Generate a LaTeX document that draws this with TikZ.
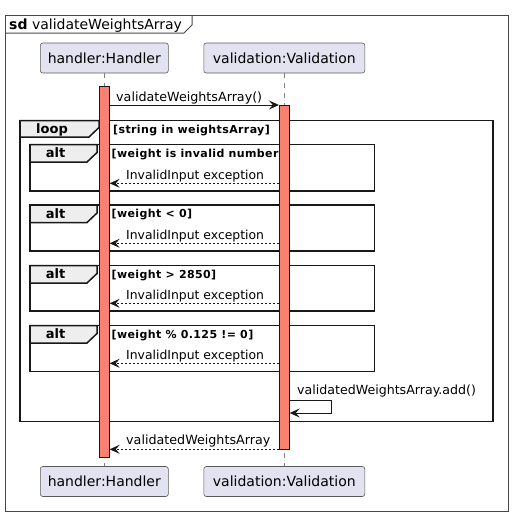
\documentclass[tikz,border=0pt]{standalone}
\usepackage{fontspec}
\setmainfont{DejaVu Sans}
\usetikzlibrary{arrows.meta}
\definecolor{partfill}{HTML}{E2E2F0}
\definecolor{partline}{HTML}{5A5A5A}
\definecolor{actfill}{HTML}{FA8072}
\definecolor{tabfill}{HTML}{EEEEEE}
\definecolor{frmline}{HTML}{181818}
\begin{document}
\begin{tikzpicture}[x=1pt,y=-1pt,
  part/.style={draw=partline, fill=partfill, rounded corners=2.5pt, minimum height=30pt, inner sep=0, line width=0.6pt, font=\fontsize{14}{16}\selectfont},
  act/.style={draw=frmline, fill=actfill, minimum width=10pt, inner sep=0, line width=0.8pt},
  life/.style={draw=gray, dash pattern=on 5pt off 5pt, line width=0.5pt},
  msg/.style={-{Stealth[length=10pt,width=9pt,inset=4pt]}, line width=0.8pt, draw=frmline},
  ret/.style={msg, dash pattern=on 2pt off 2pt},
  lbl/.style={font=\fontsize{12.7}{15}\selectfont, inner sep=0, anchor=base west},
  guard/.style={font=\fontsize{11}{13}\selectfont\bfseries\addfontfeature{LetterSpace=3.5}, inner sep=0, anchor=base west},
  tablbl/.style={font=\fontsize{13}{15}\selectfont\bfseries, inner sep=0, anchor=base},
  frm/.style={draw=frmline, line width=1.5pt},
  tab/.style={draw=frmline, fill=tabfill, line width=1.5pt, line join=miter},
  ]
\useasboundingbox (0,0) rectangle (513,517);
% outer frame
\draw[draw=frmline!80, line width=1pt] (5,15) rectangle (508,511);
\draw[draw=frmline!80, line width=1pt] (5,33) -- (184,33) -- (192,25) -- (192,15);
\node[inner sep=0, anchor=base west, font=\fontsize{14}{16}\selectfont] (title) at (9,29) {\textbf{sd} validateWeightsArray};

% loop frame
\draw[frm] (20,120.5) rectangle (493,421.5);
\filldraw[tab] (20,120.5) -- (99,120.5) -- (99,127.5) -- (89,137) -- (20,137) -- cycle;
\node[tablbl] (looplbl) at (52,133) {loop};
\node[guard] (loopg) at (113,133) {[string in weightsArray]};

% alt frames
\foreach \t/\b/\g [count=\i] in {144.5/190.8/{[weight is invalid number]},205/250.8/{[weight < 0]},265.5/310.8/{[weight > 2850]},325.5/371.5/{[weight \% 0.125 != 0]}}{
  \draw[frm] (30,\t) rectangle (374.5,\b);
  \filldraw[tab] (30,\t) -- (97,\t) -- (97,\t+8) -- (87,\t+17.5) -- (30,\t+17.5) -- cycle;
  \node[tablbl] (altlbl\i) at (55.5,\t+13) {alt};
  \node[guard] (altg\i) at (111.5,\t+12.5) {\g};
}

% participants
\node[part, minimum width=128pt] (hTop) at (104.3,58) {handler:Handler};
\node[part, minimum width=161pt] (vTop) at (284.3,58) {validation:Validation};
\node[part, minimum width=128pt] (hBot) at (104.3,481.5) {handler:Handler};
\node[part, minimum width=161pt] (vBot) at (284.3,481.5) {validation:Validation};
\draw[life] (hTop.south) -- (hBot.north);
\draw[life] (vTop.south) -- (vBot.north);

% activations
\node[act, minimum height=371.7pt] (hact) at (104.3,271.85) {};
\node[act, minimum height=344.3pt] (vact) at (284.3,277.15) {};

% messages
\coordinate (c1a) at (hact.east |- 0,105);
\coordinate (c1b) at (vact.west |- 0,105);
\draw[msg] (c1a) -- (c1b);
\node[lbl] (l1) at (116,101) {validateWeightsArray()};

\foreach \y [count=\i] in {183.3,243.3,303.3,363.3}{
  \coordinate (e\i a) at (vact.west |- 0,\y);
  \coordinate (e\i b) at (hact.east |- 0,\y);
  \draw[ret] (e\i a) -- (e\i b);
  \node[lbl, font=\fontsize{12.4}{15}\selectfont] (el\i) at (126,\y-4.3) {InvalidInput exception};
}

% self message
\coordinate (s1) at (vact.east |- 0,400.7);
\coordinate (s2) at (331,400.7);
\coordinate (s3) at (331,413);
\coordinate (s4) at (vact.east |- 0,413);
\draw[msg] (s1) -- (s2) -- (s3) -- (s4);
\node[lbl, font=\fontsize{12.6}{15}\selectfont] (sl) at (297,394.5) {validatedWeightsArray.add()};

% return
\coordinate (r1) at (vact.west |- 0,449.3);
\coordinate (r2) at (hact.east |- 0,449.3);
\draw[ret] (r1) -- (r2);
\node[lbl, font=\fontsize{12.7}{15}\selectfont] (rl) at (126,444.5) {validatedWeightsArray};
\end{tikzpicture}
\end{document}
